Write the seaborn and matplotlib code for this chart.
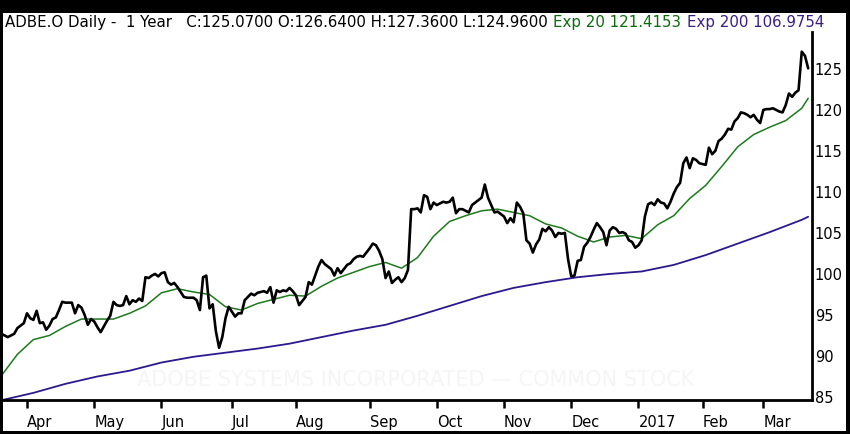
import numpy as np
import pandas as pd
import matplotlib
matplotlib.use("Agg")
import matplotlib.pyplot as plt
import seaborn as sns
from matplotlib.patches import Rectangle

# ---------------- data ----------------
holidays = ["2016-03-25", "2016-05-30", "2016-07-04", "2016-09-05", "2016-11-24",
            "2016-12-26", "2017-01-02", "2017-01-16", "2017-02-20"]
start_date = "2016-03-21"
end_date = "2017-03-21"

close = [
    92.7, 92.5, 92.3, 92.5, 92.7, 93.4, 93.7, 94.0, 95.2, 94.6,
    94.4, 95.5, 94.0, 94.1, 93.2, 93.7, 94.5, 94.7, 95.6, 96.6,
    96.5, 96.5, 96.5, 95.2, 96.2, 95.9, 95.0, 93.8, 94.5, 94.2,
    93.5, 92.9, 93.6, 94.3, 94.9, 96.6, 96.2, 96.1, 96.2, 97.3,
    96.3, 96.8, 96.6, 97.0, 96.7, 99.6, 99.5, 99.8, 100.0, 99.7,
    100.1, 100.2, 99.0, 98.7, 98.9, 98.4, 97.8, 97.2, 97.1, 97.1,
    97.1, 96.8, 95.6, 99.6, 99.8, 95.8, 96.3, 93.0, 91.0, 92.3,
    94.6, 96.0, 95.4, 94.8, 95.2, 95.2, 96.8, 97.2, 97.6, 97.4,
    97.7, 97.8, 97.9, 97.7, 98.4, 96.5, 98.0, 97.8, 98.0, 97.9,
    98.3, 97.9, 97.4, 96.2, 96.7, 97.2, 99.0, 98.7, 99.8, 100.9,
    101.7, 101.2, 100.9, 100.6, 99.8, 100.7, 100.1, 100.6, 101.1, 101.3,
    101.8, 102.1, 102.2, 102.1, 102.6, 103.1, 103.7, 103.5, 102.8, 101.8,
    99.5, 100.3, 98.9, 99.3, 99.6, 99.0, 99.5, 100.5, 107.9, 107.9,
    108.0, 107.5, 109.6, 109.4, 107.9, 108.7, 108.4, 108.6, 108.8, 108.7,
    108.8, 109.3, 107.4, 107.9, 107.9, 107.7, 107.5, 108.4, 108.7, 109.0,
    109.3, 110.9, 109.3, 108.4, 107.5, 107.6, 107.3, 107.0, 106.2, 106.8,
    106.3, 108.7, 108.2, 107.4, 104.1, 103.7, 102.6, 103.6, 104.2, 105.5,
    105.2, 105.7, 105.3, 104.5, 105.0, 104.9, 105.0, 101.8, 99.7, 99.8,
    101.6, 101.7, 103.3, 103.8, 104.5, 105.4, 106.2, 105.7, 105.1, 103.5,
    105.3, 105.7, 105.5, 105.0, 105.1, 104.9, 104.1, 103.9, 103.2, 103.5,
    104.1, 107.0, 108.5, 108.7, 108.4, 109.1, 108.7, 108.6, 108.0, 108.8,
    109.8, 110.6, 111.1, 113.5, 114.2, 112.9, 114.1, 113.9, 113.5, 113.4,
    113.3, 115.4, 114.6, 115.0, 116.2, 116.5, 117.0, 117.7, 117.6, 118.6,
    119.0, 119.7, 119.6, 119.4, 119.1, 119.4, 118.8, 118.4, 120.0, 120.1,
    120.1, 120.2, 120.0, 119.8, 119.7, 120.6, 122.0, 121.6, 122.1, 122.4,
    127.1, 126.6, 125.07,
]

ema20_days = list(range(0, 251, 5)) + [252]
ema20 = [
    87.6, 90.2, 92.0, 92.5, 93.6, 94.5, 94.5, 94.5, 95.2, 96.1,
    97.7, 98.2, 97.8, 97.5, 96.0, 95.6, 96.4, 96.9, 97.4, 97.3,
    98.5, 99.5, 100.2, 100.9, 101.4, 100.7, 102.0, 104.6, 106.4, 107.1,
    107.7, 107.9, 107.5, 107.1, 106.1, 105.6, 104.6, 103.9, 104.5, 104.7,
    104.3, 106.0, 107.1, 109.2, 110.8, 113.1, 115.5, 117.0, 117.9, 118.7,
    120.2, 121.4153,
]

ema200_days = list(range(0, 251, 10)) + [252]
ema200 = [
    84.6, 85.5, 86.6, 87.5, 88.2, 89.2, 89.9, 90.4, 90.9, 91.5,
    92.3, 93.1, 93.8, 94.9, 96.1, 97.3, 98.3, 99.0, 99.6, 100.0,
    100.3, 101.1, 102.3, 103.7, 105.1, 106.6, 106.9754,
]

y_ticks = [85, 90, 95, 100, 105, 110, 115, 120, 125]

title_main = "ADBE.O Daily -  1 Year   C:125.0700 O:126.6400 H:127.3600 L:124.9600"
title_ema20 = "Exp 20 121.4153"
title_ema200 = "Exp 200 106.9754"
watermark = "ADOBE SYSTEMS INCORPORATED \u2014 COMMON STOCK"

# ---------------- calendar ----------------
dates = pd.bdate_range(start_date, end_date, freq="C", holidays=holidays)
days = np.arange(len(close))
month_first = [i for i in range(1, len(dates)) if dates[i].month != dates[i - 1].month]
month_labels = [dates[i].strftime("%Y") if dates[i].month == 1 else dates[i].strftime("%b")
                for i in month_first]

# ---------------- figure ----------------
sns.set_theme(style="white")
plt.rcParams["font.family"] = ["DejaVu Sans"]

W, H = 850, 434
fig = plt.figure(figsize=(W / 100, H / 100), dpi=100, facecolor="black")
fig.add_artist(Rectangle((3 / W, 3 / H), (846 - 3) / W, (421 - 3) / H,
                         transform=fig.transFigure, facecolor="white",
                         edgecolor="none", zorder=0))

ax = fig.add_axes([3 / W, 34 / H, 809 / W, 368 / H])
ax.set_facecolor("white")

ax.text(0.51, 0.055, watermark, transform=ax.transAxes, ha="center", va="center",
        fontsize=15, color="#f5f5f5", zorder=0.5)

price_df = pd.DataFrame({"day": days, "close": close})
e20_df = pd.DataFrame({"day": ema20_days, "ema": ema20})
e200_df = pd.DataFrame({"day": ema200_days, "ema": ema200})

sns.lineplot(data=e200_df, x="day", y="ema", ax=ax, color="#2c1890", lw=1.3, zorder=2)
sns.lineplot(data=e20_df, x="day", y="ema", ax=ax, color="#1d7a1d", lw=1.1, zorder=3)
sns.lineplot(data=price_df, x="day", y="close", ax=ax, color="black", lw=1.9, zorder=4)

ax.set_xlim(0.5, 253.2)
ax.set_ylim(84.63, 129.5)
ax.set_xlabel("")
ax.set_ylabel("")

for s in ["left", "top"]:
    ax.spines[s].set_visible(False)
for s in ["right", "bottom"]:
    ax.spines[s].set_visible(True)
    ax.spines[s].set_color("black")
    ax.spines[s].set_linewidth(2)

ax.yaxis.tick_right()
ax.set_yticks(y_ticks)
ax.set_yticklabels([str(v) for v in y_ticks])
ax.tick_params(axis="y", right=True, left=False, length=0, pad=2, labelsize=10.5,
               labelcolor="black")

ax.set_xticks(month_first)
ax.set_xticklabels(month_labels, ha="left")
ax.tick_params(axis="x", bottom=True, length=6, width=1.8, direction="out",
               pad=5, labelsize=10.5, color="black", labelcolor="black")

t1 = fig.text(5 / W, (H - 23) / H, title_main, fontsize=10.8, color="black",
              ha="left", va="center")
t2 = ax.annotate(title_ema20, xy=(1, 0), xycoords=t1, xytext=(4, 0),
                 textcoords="offset points", fontsize=10.8, color="#0b6b0b",
                 ha="left", va="bottom", annotation_clip=False)
t3 = ax.annotate(title_ema200, xy=(1, 0), xycoords=t2, xytext=(4, 0),
                 textcoords="offset points", fontsize=10.8, color="#3b1c85",
                 ha="left", va="bottom", annotation_clip=False)

fig.savefig("out.png", dpi=100, facecolor="black")
